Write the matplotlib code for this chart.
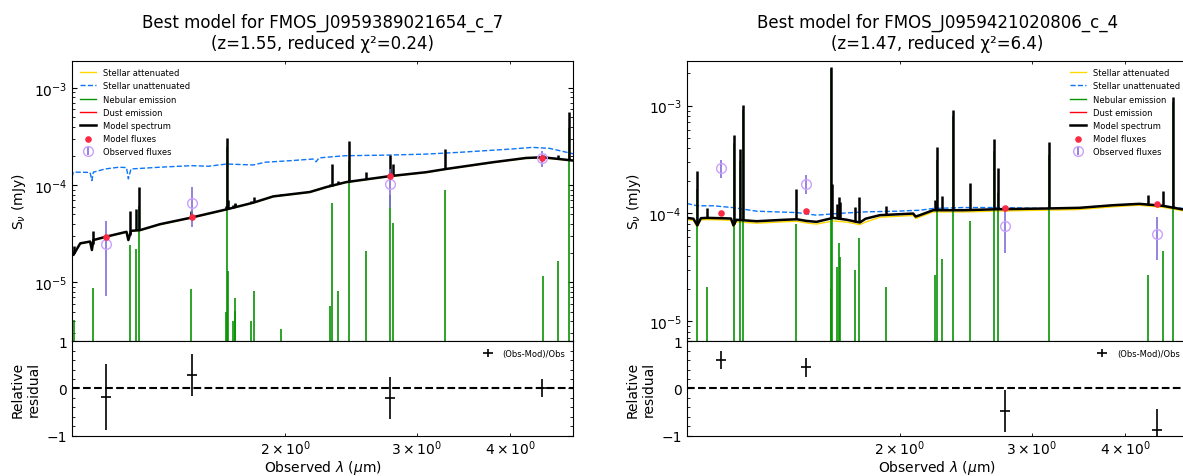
import numpy as np
import matplotlib
matplotlib.use("Agg")
import matplotlib.pyplot as plt

# ------------------------------------------------------------------ data
FILTER_WL = [1.154, 1.501, 2.765, 4.408]   # observed wavelength of the photometric bands (um)

# ---- left object: FMOS_J0959389021654_c_7 (z=1.55, reduced chi2=0.24)
L_TITLE = "Best model for FMOS_J0959389021654_c_7\n(z=1.55, reduced χ²=0.24)"
L_CONT_WL = [1.038, 1.043, 1.065, 1.098, 1.104, 1.109, 1.152, 1.228, 1.235, 1.245, 1.280,
             1.361, 1.493, 1.671, 1.813, 1.928, 2.158, 2.271, 2.414, 2.758, 3.087, 3.283,
             3.788, 4.196, 4.416, 4.648, 4.87]
L_CONT_F = [2.153e-5, 1.914e-5, 2.518e-5, 2.630e-5, 2.153e-5, 2.723e-5, 2.944e-5, 3.311e-5,
            2.723e-5, 3.388e-5, 3.443e-5, 3.963e-5, 4.603e-5, 5.636e-5, 6.592e-5, 7.656e-5,
            8.492e-5, 9.550e-5, 1.074e-4, 1.236e-4, 1.358e-4, 1.466e-4, 1.718e-4, 1.901e-4,
            1.932e-4, 1.854e-4, 1.782e-4]
L_ATT_F = [2.140e-5, 1.900e-5, 2.500e-5, 2.610e-5, 2.140e-5, 2.700e-5, 2.920e-5, 3.290e-5,
           2.700e-5, 3.360e-5, 3.420e-5, 3.930e-5, 4.570e-5, 5.600e-5, 6.550e-5, 7.600e-5,
           8.430e-5, 9.480e-5, 1.066e-4, 1.227e-4, 1.348e-4, 1.455e-4, 1.705e-4, 1.887e-4,
           1.918e-4, 1.840e-4, 1.770e-4]
L_UNATT_WL = [1.038, 1.043, 1.065, 1.098, 1.104, 1.109, 1.150, 1.200, 1.228, 1.235, 1.245,
              1.361, 1.500, 1.580, 1.671, 1.813, 1.880, 2.030, 2.180, 2.200, 2.220, 2.400,
              2.758, 3.087, 3.420, 3.990, 4.280, 4.510, 4.870]
L_UNATT_F = [1.208e-4, 1.358e-4, 1.358e-4, 1.349e-4, 1.114e-4, 1.358e-4, 1.466e-4, 1.528e-4,
             1.514e-4, 1.159e-4, 1.466e-4, 1.528e-4, 1.585e-4, 1.563e-4, 1.648e-4, 1.611e-4,
             1.718e-4, 1.782e-4, 1.854e-4, 1.738e-4, 1.905e-4, 2.004e-4, 2.037e-4, 2.084e-4,
             2.173e-4, 2.344e-4, 2.443e-4, 2.388e-4, 2.084e-4]
L_LINE_WL = [1.046, 1.107, 1.240, 1.265, 1.277, 1.498, 1.670, 1.674, 1.679, 1.703, 1.713,
             1.716, 1.802, 1.820, 1.976, 2.299, 2.313, 2.353, 2.431, 2.563, 2.762, 2.789,
             3.269, 4.426, 4.634, 4.783]
L_LINE_PEAK = [4.06e-6, 8.7e-6, 2.4e-5, 2.2e-5, 6.1e-5, 8.5e-6, 5.0e-6, 2.48e-4, 1.3e-5,
               4.0e-6, 6.9e-6, 5.1e-6, 4.0e-6, 8.1e-6, 3.3e-6, 5.7e-6, 6.5e-5, 8.2e-6,
               1.75e-4, 2.12e-5, 8.0e-5, 4.1e-5, 9.0e-5, 1.15e-5, 1.64e-5, 3.84e-4]
L_MOD = [2.93e-5, 4.71e-5, 1.24e-4, 1.89e-4]
L_OBS = [2.48e-5, 6.59e-5, 1.03e-4, 1.90e-4]
L_OBS_ERR = [1.75e-5, 2.9e-5, 4.5e-5, 3.6e-5]      # plotted (3 sigma) error

# ---- right object: FMOS_J0959421020806_c_4 (z=1.47, reduced chi2=6.4)
R_TITLE = "Best model for FMOS_J0959421020806_c_4\n(z=1.47, reduced χ²=6.4)"
R_CONT_WL = [1.039, 1.060, 1.073, 1.085, 1.105, 1.150, 1.190, 1.199, 1.210, 1.288, 1.400,
             1.457, 1.500, 1.548, 1.630, 1.700, 1.769, 1.800, 1.881, 2.084, 2.100, 2.127,
             2.216, 2.430, 2.692, 3.138, 3.475, 3.850, 4.178, 4.488, 4.764, 4.870]
R_CONT_F = [9.078e-5, 8.913e-5, 7.745e-5, 9.016e-5, 9.078e-5, 9.016e-5, 8.954e-5, 7.745e-5,
            8.710e-5, 8.453e-5, 8.710e-5, 8.810e-5, 8.511e-5, 8.337e-5, 9.078e-5, 8.710e-5,
            8.222e-5, 8.913e-5, 9.616e-5, 9.954e-5, 9.333e-5, 9.616e-5, 1.069e-4, 1.069e-4,
            1.091e-4, 1.109e-4, 1.125e-4, 1.189e-4, 1.225e-4, 1.175e-4, 1.091e-4, 1.084e-4]
R_ATT_F = [8.75e-5, 8.60e-5, 7.45e-5, 8.70e-5, 8.75e-5, 8.70e-5, 8.60e-5, 7.45e-5, 8.35e-5,
           8.10e-5, 8.35e-5, 8.45e-5, 8.15e-5, 7.95e-5, 8.50e-5, 8.30e-5, 7.85e-5, 8.30e-5,
           9.20e-5, 9.55e-5, 8.95e-5, 9.25e-5, 1.03e-4, 1.03e-4, 1.05e-4, 1.07e-4, 1.085e-4,
           1.15e-4, 1.19e-4, 1.14e-4, 1.06e-4, 1.05e-4]
R_UNATT_WL = [1.039, 1.073, 1.127, 1.199, 1.288, 1.457, 1.548, 1.663, 1.806, 1.980, 2.127,
              2.216, 2.430, 2.692, 3.138, 3.475, 3.850, 4.178, 4.488, 4.870]
R_UNATT_F = [1.233e-4, 1.175e-4, 1.175e-4, 1.130e-4, 1.047e-4, 1.016e-4, 9.616e-5, 1.000e-4,
             1.033e-4, 1.047e-4, 1.069e-4, 1.109e-4, 1.132e-4, 1.132e-4, 1.109e-4, 1.125e-4,
             1.189e-4, 1.225e-4, 1.175e-4, 1.091e-4]
R_LINE_WL = [1.072, 1.105, 1.2007, 1.2249, 1.2367, 1.4514, 1.617, 1.621, 1.626, 1.650, 1.659,
             1.6626, 1.745, 1.7626, 1.916, 2.2267, 2.240, 2.2796, 2.354, 2.482, 2.675, 2.702,
             3.166, 4.295, 4.498, 4.633]
R_LINE_PEAK = [1.7e-4, 2.07e-5, 4.5e-4, 3.05e-4, 9.2e-4, 8.0e-5, 2.0e-5, 2.2e-3, 9.5e-5,
               3.2e-5, 5.3e-5, 3.9e-5, 2.96e-5, 5.9e-5, 2.07e-5, 2.7e-5, 3.1e-4, 3.74e-5,
               8.0e-4, 8.4e-5, 3.8e-4, 1.55e-4, 3.45e-4, 2.7e-5, 4.48e-5, 1.09e-3]
R_MOD = [1.01e-4, 1.047e-4, 1.125e-4, 1.215e-4]
R_OBS = [2.61e-4, 1.89e-4, 7.65e-5, 6.49e-5]
R_OBS_ERR = [5.0e-5, 3.9e-5, 3.4e-5, 2.8e-5]

# ------------------------------------------------------------------ drawing
C_ATT = "gold"
C_UNATT = "xkcd:deep sky blue"
C_NEB = "xkcd:true green"
C_DUST = "xkcd:bright red"
C_MOD = "xkcd:strawberry"
C_OBS = "xkcd:pastel purple"
C_OBS_ERR = "#8070d8"


def draw_panel(fig, left, title, cont_wl, cont_f, att_f, unatt_wl, unatt_f,
               line_wl, line_peak, mod_f, obs_f, obs_e, legend_loc):
    width = 0.4235
    ax = fig.add_axes([left, 0.2824, width, 0.5882])
    axr = fig.add_axes([left, 0.0845, width, 0.1979], sharex=ax)

    wl = np.array(FILTER_WL)
    obs = np.array(obs_f)
    mod = np.array(mod_f)
    err = np.array(obs_e)
    xmin, xmax = 0.9 * wl.min(), 1.1 * wl.max()
    ymin = 0.1 * min(obs.min(), mod.min())
    ymax = 10.0 * max(obs.max(), mod.max())

    ax.plot(cont_wl, att_f, color=C_ATT, lw=1.0, label="Stellar attenuated")
    ax.plot(unatt_wl, unatt_f, color=C_UNATT, ls="--", lw=1.0, label="Stellar unattenuated")
    ax.vlines(line_wl, ymin * 0.1, line_peak, color=C_NEB, lw=1.2)
    ax.plot([], [], color=C_NEB, lw=1.0, label="Nebular emission")
    ax.plot([], [], color=C_DUST, lw=1.0, label="Dust emission")
    base = 10 ** np.interp(np.log10(line_wl), np.log10(cont_wl), np.log10(cont_f))
    ax.vlines(line_wl, base, base + np.array(line_peak), color="k", lw=1.8)
    ax.plot(cont_wl, cont_f, color="k", lw=1.8, label="Model spectrum")
    ax.scatter(wl, mod, marker="o", color=C_MOD, s=14, zorder=3, label="Model fluxes")
    ax.errorbar(wl, obs, yerr=err, ls="", marker="o", markerfacecolor="none",
                markersize=7, markeredgecolor=C_OBS, ecolor=C_OBS_ERR, elinewidth=1.2,
                capsize=0, label="Observed fluxes")

    ax.set_xscale("log")
    ax.set_yscale("log")
    ax.set_xlim(xmin, xmax)
    ax.set_ylim(ymin, ymax)
    ax.set_ylabel(r"S$_\nu$ (mJy)")
    ax.tick_params(direction="in", axis="both", which="both", top=True, left=True,
                   right=True, bottom=False, labelbottom=False)
    ax.legend(fontsize=6, loc=legend_loc, frameon=False)
    ax.set_title(title, fontsize=12, pad=9)

    res = (obs - mod) / obs
    res_err = err / obs
    axr.errorbar(wl, res, yerr=res_err, marker="_", color="k", capsize=0, ls="None",
                 markersize=7, mew=1.2, elinewidth=1.2, label="(Obs-Mod)/Obs")
    axr.plot([xmin, xmax], [0.0, 0.0], ls="--", color="k", lw=1.5)
    axr.set_xscale("log")
    axr.set_xlim(xmin, xmax)
    axr.set_ylim(-1.0, 1.0)
    axr.minorticks_on()
    axr.tick_params(direction="in", axis="both", which="both", right=True)
    axr.tick_params(axis="x", which="both", pad=2)
    axr.set_xlabel(r"Observed $\lambda$ ($\mu$m)", labelpad=1)
    axr.set_ylabel("Relative\nresidual")
    axr.legend(fontsize=6, loc="upper right", frameon=False)
    return ax, axr


fig = plt.figure(figsize=(11.83, 4.77), dpi=100)
draw_panel(fig, 0.0609, L_TITLE, L_CONT_WL, L_CONT_F, L_ATT_F, L_UNATT_WL, L_UNATT_F,
           L_LINE_WL, L_LINE_PEAK, L_MOD, L_OBS, L_OBS_ERR, "upper left")
draw_panel(fig, 0.5805, R_TITLE, R_CONT_WL, R_CONT_F, R_ATT_F, R_UNATT_WL, R_UNATT_F,
           R_LINE_WL, R_LINE_PEAK, R_MOD, R_OBS, R_OBS_ERR, "upper right")
fig.savefig("out.png", dpi=100)
